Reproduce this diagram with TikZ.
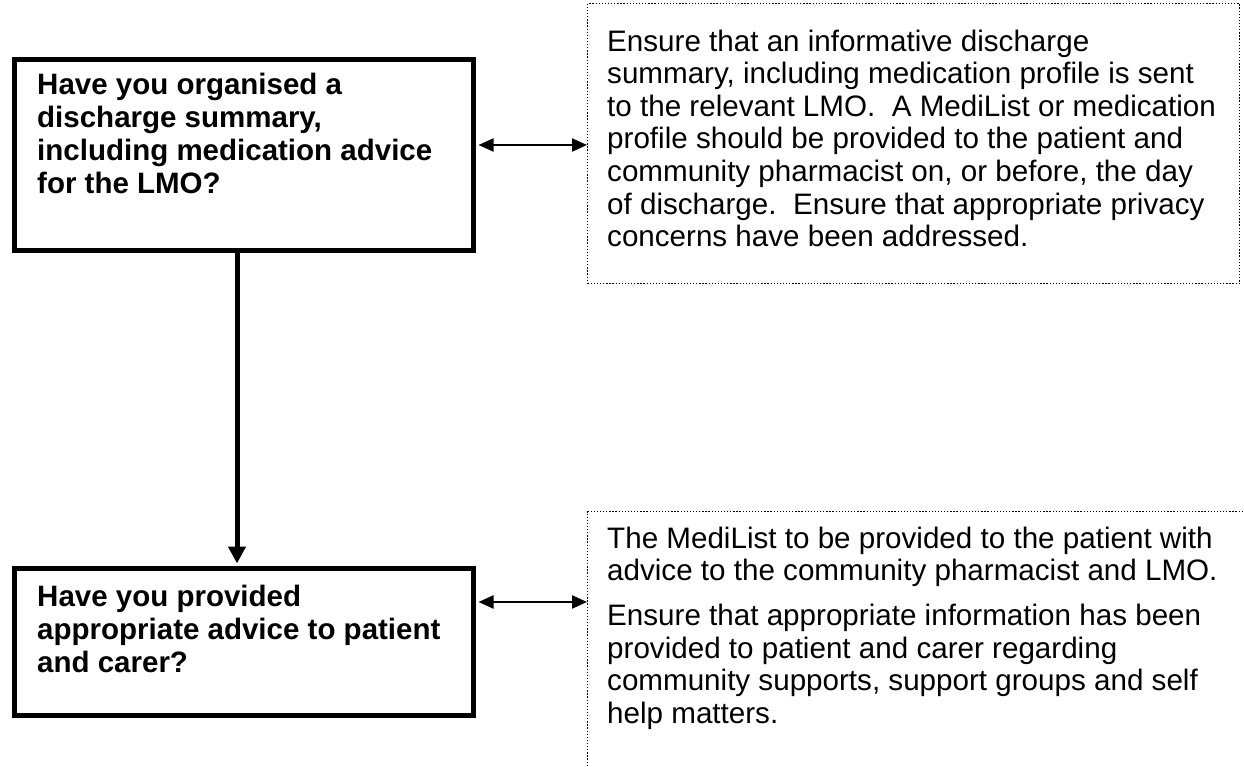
\documentclass[tikz,border=0pt]{standalone}
\usepackage{fontspec}
\setmainfont{Liberation Sans}
\usetikzlibrary{arrows.meta,calc}
\begin{document}
\begin{tikzpicture}[x=1pt,y=-1pt,
  qbox/.style={draw=black,line width=5pt,fill=none,inner sep=0pt,anchor=north west},
  nbox/.style={draw=black,line width=1.3pt,dash pattern=on 1.3pt off 1.8pt,inner sep=0pt,anchor=north west},
  qtext/.style={anchor=north west,inner sep=0pt,align=left,font=\fontsize{29.5}{33}\selectfont\bfseries},
  ntext/.style={anchor=north west,inner sep=0pt,align=left,font=\fontsize{29.6}{32.6}\selectfont},
  harrow/.style={line width=2.2pt,{Triangle[length=15pt,width=13pt]}-{Triangle[length=15pt,width=13pt]}},
  varrow/.style={line width=5pt,-{Triangle[length=17pt,width=17pt]}}]
\useasboundingbox (0,0) rectangle (1244,767);
% question boxes
\node[qbox,minimum width=459pt,minimum height=191pt] (q1) at (12,57) {};
\node[qbox,minimum width=459pt,minimum height=147pt] (q2) at (12,566) {};
% note boxes (dotted)
\node[nbox,minimum width=652pt,minimum height=280pt] (n1) at (587,3) {};
\node[nbox,minimum width=700pt,minimum height=300pt] (n2) at (587,511) {};
% texts
\node[qtext] (t1) at (37,70) {\rule{0pt}{24pt}Have you organised a\\discharge summary,\\including medication advice\\for the LMO?};
\node[qtext] (t2) at (37,582) {\rule{0pt}{24pt}Have you provided\\appropriate advice to patient\\and carer?};
\node[ntext] (t3) at (607,27) {\rule{0pt}{24pt}Ensure that an informative discharge\\summary, including medication profile is sent\\to the relevant LMO.\ \ A MediList or medication\\profile should be provided to the patient and\\community pharmacist on, or before, the day\\of discharge.\ \ Ensure that appropriate privacy\\concerns have been addressed.};
\node[ntext] (t4) at (607,524) {\rule{0pt}{24pt}The MediList to be provided to the patient with\\advice to the community pharmacist and LMO.\\[12pt]Ensure that appropriate information has been\\provided to patient and carer regarding\\community supports, support groups and self\\help matters.};
% connectors
\coordinate (a1) at (0,145);
\coordinate (a2) at (0,602);
\draw[harrow] ([xshift=2.5pt]q1.east |- a1) -- (n1.west |- a1);
\draw[harrow] ([xshift=2.5pt]q2.east |- a2) -- (n2.west |- a2);
\draw[varrow,shorten >=2.5pt] ([xshift=-7pt]q1.south) -- ([xshift=-7pt]q2.north);
\end{tikzpicture}
\end{document}
